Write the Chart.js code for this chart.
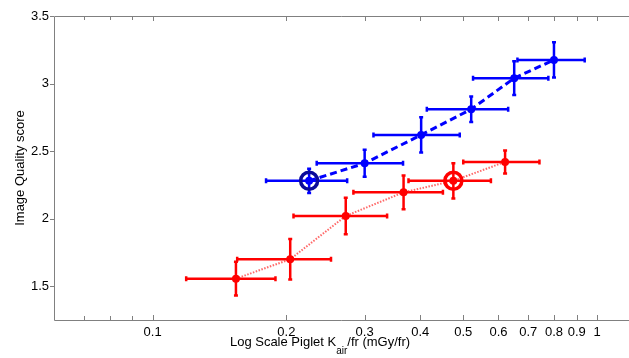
<!DOCTYPE html>
<html>
<head>
<meta charset="utf-8">
<script src="https://cdn.jsdelivr.net/npm/chart.js@4/dist/chart.umd.min.js"></script>
<style>
  html, body { margin: 0; padding: 0; background: #fff; }
  #wrap { width: 629px; height: 358px; }
</style>
</head>
<body>
<div id="wrap"><canvas id="iqChart" width="629" height="358"></canvas></div>
<script>
// Tick values on the log x axis
const xTickValues = [0.07, 0.08, 0.09, 0.1, 0.2, 0.3, 0.4, 0.5, 0.6, 0.7, 0.8, 0.9, 1];
const xTickLabels = ["", "", "", "0.1", "0.2", "0.3", "0.4", "0.5", "0.6", "0.7", "0.8", "0.9", "1"];
const yTickValues = [1.5, 2, 2.5, 3, 3.5];

// Blue series
const blueX = [0.225, 0.30, 0.402, 0.521, 0.651, 0.80];
const blueY = [2.28, 2.41, 2.62, 2.81, 3.04, 3.175];
const blueXLow = [0.18, 0.234, 0.314, 0.414, 0.526, 0.662];
const blueXHigh = [0.274, 0.366, 0.491, 0.631, 0.777, 0.938];
const blueYErr = [0.09, 0.10, 0.13, 0.095, 0.125, 0.13];

// Red series
const redX = [0.154, 0.204, 0.272, 0.367, 0.475, 0.621];
const redY = [1.556, 1.70, 2.02, 2.195, 2.28, 2.42];
const redXLow = [0.119, 0.155, 0.2075, 0.283, 0.3765, 0.50];
const redXHigh = [0.189, 0.252, 0.337, 0.450, 0.577, 0.742];
const redYErr = [0.125, 0.15, 0.135, 0.125, 0.13, 0.085];

// Highlighted (circled) points: index into each series
const blueCircled = 0;
const redCircled = 4;

const FONT = "'Liberation Sans', Arial, sans-serif";
const FONT_SIZE = 13;
const AXIS_GRAY = "#808080";

function toPoints(xs, ys) {
    return xs.map((x, i) => ({ x: x, y: ys[i] }));
}

// error bars + MATLAB-like axes, all placed through the chart scales
const errorBarPlugin = {
    id: "errorBars",
    beforeDatasetsDraw(chart) {
        const ctx = chart.ctx;
        const xs = chart.scales.x, ys = chart.scales.y;
        const groups = [
            { color: "#0000ff", x: blueX, y: blueY, lo: blueXLow, hi: blueXHigh, err: blueYErr },
            { color: "#ff0000", x: redX, y: redY, lo: redXLow, hi: redXHigh, err: redYErr }
        ];
        ctx.save();
        ctx.lineWidth = 2.5;
        ctx.lineCap = "butt";
        groups.forEach(g => {
            ctx.strokeStyle = g.color;
            g.x.forEach((xv, i) => {
                const px = xs.getPixelForValue(xv);
                const py = ys.getPixelForValue(g.y[i]);
                const l = xs.getPixelForValue(g.lo[i]);
                const r = xs.getPixelForValue(g.hi[i]);
                const t = ys.getPixelForValue(g.y[i] + g.err[i]);
                const b = ys.getPixelForValue(g.y[i] - g.err[i]);
                ctx.beginPath();
                ctx.moveTo(l, py); ctx.lineTo(r, py);
                ctx.moveTo(l, py - 2.5); ctx.lineTo(l, py + 2.5);
                ctx.moveTo(r, py - 2.5); ctx.lineTo(r, py + 2.5);
                ctx.moveTo(px, t); ctx.lineTo(px, b);
                ctx.moveTo(px - 2, t); ctx.lineTo(px + 2, t);
                ctx.moveTo(px - 2, b); ctx.lineTo(px + 2, b);
                ctx.stroke();
            });
        });
        ctx.restore();
    },
    afterDraw(chart) {
        const ctx = chart.ctx;
        const a = chart.chartArea;
        const xs = chart.scales.x, ys = chart.scales.y;
        ctx.save();
        ctx.strokeStyle = AXIS_GRAY;
        ctx.lineWidth = 1;
        ctx.beginPath();
        // box: left, bottom, top (right side runs off the picture)
        ctx.moveTo(chart.width, a.top + 0.5); ctx.lineTo(a.left + 0.5, a.top + 0.5);
        ctx.lineTo(a.left + 0.5, a.bottom + 0.5); ctx.lineTo(chart.width, a.bottom + 0.5);
        xTickValues.forEach((v, i) => {
            const px = Math.round(xs.getPixelForValue(v)) + 0.5;
            const len = xTickLabels[i] === "" ? 4 : 5;
            ctx.moveTo(px, a.bottom); ctx.lineTo(px, a.bottom - len);
            ctx.moveTo(px, a.top); ctx.lineTo(px, a.top + len);
        });
        yTickValues.forEach(v => {
            const py = Math.round(ys.getPixelForValue(v)) + 0.5;
            ctx.moveTo(a.left, py); ctx.lineTo(a.left - 4, py);
        });
        ctx.stroke();

        // axis titles
        ctx.fillStyle = "#000";
        ctx.textBaseline = "alphabetic";
        const part1 = "Log Scale Piglet K";
        const sub = "air";
        const part2 = "/fr (mGy/fr)";
        ctx.font = FONT_SIZE + "px " + FONT;
        const w1 = ctx.measureText(part1).width;
        const w3 = ctx.measureText(part2).width;
        ctx.font = "10px " + FONT;
        const w2 = ctx.measureText(sub).width;
        const x0 = 320 - (w1 + w2 + w3) / 2;
        const base = 346;
        ctx.textAlign = "left";
        ctx.font = FONT_SIZE + "px " + FONT;
        ctx.fillText(part1, x0, base);
        ctx.font = "10px " + FONT;
        ctx.fillText(sub, x0 + w1, base + 8);
        ctx.font = FONT_SIZE + "px " + FONT;
        ctx.fillText(part2, x0 + w1 + w2, base);

        ctx.translate(24, (a.top + a.bottom) / 2);
        ctx.rotate(-Math.PI / 2);
        ctx.textAlign = "center";
        ctx.fillText("Image Quality score", 0, 0);
        ctx.restore();
    }
};

document.addEventListener("DOMContentLoaded", function () {
    const ctx = document.getElementById("iqChart").getContext("2d");

    new Chart(ctx, {
        type: "scatter",
        data: {
            datasets: [
                {
                    label: "blue circled",
                    data: [{ x: blueX[blueCircled], y: blueY[blueCircled] }],
                    pointRadius: 8.5,
                    pointBorderWidth: 3.5,
                    pointBorderColor: "#0a0a9a",
                    pointBackgroundColor: "rgba(0,0,0,0)",
                    showLine: false
                },
                {
                    label: "red circled",
                    data: [{ x: redX[redCircled], y: redY[redCircled] }],
                    pointRadius: 8.5,
                    pointBorderWidth: 3.5,
                    pointBorderColor: "#ff0000",
                    pointBackgroundColor: "rgba(0,0,0,0)",
                    showLine: false
                },
                {
                    label: "blue",
                    data: toPoints(blueX, blueY),
                    showLine: true,
                    borderColor: "#0000ff",
                    borderWidth: 3,
                    borderDash: [7, 4],
                    pointRadius: 4,
                    pointBorderWidth: 0,
                    pointBackgroundColor: "#0000ff"
                },
                {
                    label: "red",
                    data: toPoints(redX, redY),
                    showLine: true,
                    borderColor: "rgba(255,40,40,0.7)",
                    borderWidth: 2,
                    borderDash: [1.5, 1.5],
                    pointRadius: 4,
                    pointBorderWidth: 0,
                    pointBackgroundColor: "#ff0000"
                }
            ]
        },
        options: {
            responsive: false,
            animation: false,
            layout: { autoPadding: false, padding: { top: 16, left: 0, right: 0, bottom: 0 } },
            plugins: {
                legend: { display: false },
                tooltip: { enabled: false }
            },
            scales: {
                x: {
                    type: "logarithmic",
                    min: 0.06,
                    max: 1.18,
                    grid: { display: false, drawTicks: false },
                    border: { display: false },
                    afterBuildTicks: function (scale) {
                        scale.ticks = xTickValues.map(v => ({ value: v }));
                    },
                    afterFit: function (scale) {
                        scale.height = 38;
                        scale.paddingLeft = 0;
                        scale.paddingRight = 0;
                    },
                    ticks: {
                        autoSkip: false,
                        maxRotation: 0,
                        padding: 5,
                        color: "#000",
                        font: { family: FONT, size: FONT_SIZE },
                        callback: function (value, index) { return xTickLabels[index]; }
                    }
                },
                y: {
                    min: 1.25,
                    max: 3.5,
                    grid: { display: false, drawTicks: false },
                    border: { display: false },
                    afterBuildTicks: function (scale) {
                        scale.ticks = yTickValues.map(v => ({ value: v }));
                    },
                    afterFit: function (scale) {
                        scale.width = 54;
                        scale.paddingTop = 0;
                        scale.paddingBottom = 0;
                    },
                    ticks: {
                        padding: 5,
                        color: "#000",
                        font: { family: FONT, size: FONT_SIZE },
                        callback: function (value) { return String(value); }
                    }
                }
            }
        },
        plugins: [errorBarPlugin]
    });
});
</script>
</body>
</html>
